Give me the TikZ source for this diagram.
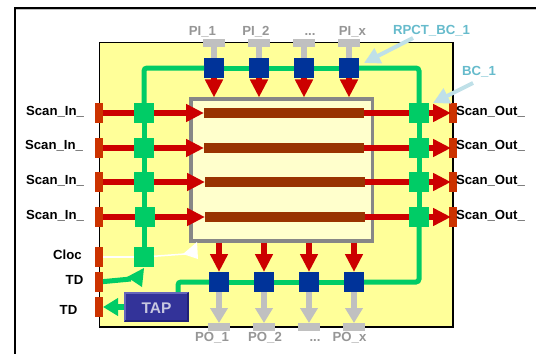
\documentclass[tikz,border=0pt]{standalone}
\usepackage{fontspec}
\setmainfont{Liberation Sans}
\usetikzlibrary{arrows.meta,calc,positioning}
\definecolor{chipyellow}{HTML}{FFFF99}
\definecolor{corecream}{HTML}{FFFFCC}
\definecolor{corebrown}{HTML}{993300}
\definecolor{scanred}{HTML}{CC0000}
\definecolor{portred}{HTML}{CC3300}
\definecolor{bcgreen}{HTML}{00CC66}
\definecolor{rpctblue}{HTML}{003399}
\definecolor{pingray}{HTML}{C0C0C0}
\definecolor{textgray}{HTML}{969696}
\definecolor{noteteal}{HTML}{66BBCC}
\definecolor{notepale}{HTML}{BFE0E8}
\definecolor{tapblue}{HTML}{333399}
\definecolor{taplight}{HTML}{6666BB}
\definecolor{tapdark}{HTML}{222277}
\definecolor{taptext}{HTML}{C8C8E0}

\begin{document}
\begin{tikzpicture}[
      x=0.2mm, y=-0.2mm,
      font=\fontsize{7.5}{9}\selectfont\bfseries,
      chip/.style={draw=black, line width=0.3mm, fill=chipyellow, inner sep=0pt, outer sep=0pt,
        minimum width=70.7mm, minimum height=56.8mm},
      core/.style={draw=textgray!90!black, line width=0.7mm, fill=corecream, inner sep=0pt, outer sep=0.35mm,
        minimum width=36.3mm, minimum height=28.3mm},
      bar/.style={fill=corebrown, inner sep=0pt, outer sep=0pt, minimum width=32mm, minimum height=2mm},
      port/.style={fill=portred, inner sep=0pt, outer sep=0pt, minimum width=1.6mm, minimum height=4.1mm},
      pin/.style={fill=pingray, inner sep=0pt, outer sep=0pt, minimum width=4.3mm, minimum height=1.6mm},
      bc/.style={fill=bcgreen, inner sep=0pt, outer sep=0pt, minimum size=4mm},
      rpct/.style={fill=rpctblue, inner sep=0pt, outer sep=0pt, minimum size=4mm},
      tapbox/.style={fill=tapblue, text=taptext, inner sep=0pt, outer sep=0pt,
        font=\fontsize{8.8}{10}\selectfont\bfseries, minimum width=13mm, minimum height=6mm},
      bus/.style={bcgreen, line width=1mm, rounded corners=0.6mm},
      scan/.style={scanred, line width=1.1mm},
      scanarr/.style={scan, -{Triangle[length=3.6mm,width=3.4mm]}},
      pinwire/.style={pingray, line width=1.1mm},
      pinarr/.style={pinwire, -{Triangle[length=3mm,width=3.4mm]}},
      notearr/.style={notepale, line width=0.8mm, -{Triangle[length=3.2mm,width=3.2mm]}},
      lbl/.style={anchor=base, inner sep=0pt},
      pinlbl/.style={lbl, text=textgray},
      notelbl/.style={lbl, text=noteteal}
    ]
    \useasboundingbox (0,0) rectangle (536,354);
    \fill[white] (0,0) rectangle (536,354);
    % page frame
    \coordinate (framebl) at (14.5,354);
    \coordinate (frametl) at (14.5,8);
    \coordinate (frametr) at (536,8);
    \draw[pingray, line width=0.2mm] (15,9.5) -- (536,9.5);
    \draw[black, line width=0.4mm] (framebl) -- (frametl) -- (frametr);

    \node[chip] (chip) at (276.25,184.75) {};
    \node[core] (core) at (281.5,170) {};

    \node[bar] (bar1) at (284,113) {};
    \node[bar] (bar2) at (284,148) {};
    \node[bar] (bar3) at (285,182) {};
    \node[bar] (bar4) at (285,217) {};

    % ports on the left
    \node[port] (in1) at (99,113) {};
    \node[port] (in2) at (99,148) {};
    \node[port] (in3) at (99,182) {};
    \node[port] (in4) at (99,217) {};
    \node[port] (clk) at (99,257) {};
    \node[port] (tdi) at (99,282) {};
    \node[port] (tdo) at (99,307) {};

    % ports on the right
    \node[port] (out1) at (453,113) {};
    \node[port] (out2) at (453,148) {};
    \node[port] (out3) at (453,182) {};
    \node[port] (out4) at (453,217) {};

    % boundary cells
    \node[bc] (bcl1) at (144,113) {};
    \node[bc] (bcl2) at (144,148) {};
    \node[bc] (bcl3) at (144,182) {};
    \node[bc] (bcl4) at (145,217) {};
    \node[bc] (bcclk) at (144,257) {};
    \node[bc] (bcr1) at (419,113) {};
    \node[bc] (bcr2) at (419,148) {};
    \node[bc] (bcr3) at (419,182) {};
    \node[bc] (bcr4) at (419,217) {};

    \node[rpct] (top1) at (214,68) {};
    \node[rpct] (top2) at (259,68) {};
    \node[rpct] (top3) at (304,68) {};
    \node[rpct] (top4) at (349,68) {};
    \node[rpct] (bot1) at (219,282) {};
    \node[rpct] (bot2) at (264,282) {};
    \node[rpct] (bot3) at (309,282) {};
    \node[rpct] (bot4) at (354,282) {};

    \node[pin] (pi1) at (214,43) {};
    \node[pin] (pi2) at (259,43) {};
    \node[pin] (pi3) at (304,43) {};
    \node[pin] (pi4) at (349,43) {};
    \node[pin] (po1) at (219,327) {};
    \node[pin] (po2) at (264,327) {};
    \node[pin] (po3) at (309,327) {};
    \node[pin] (po4) at (354,327) {};

    \node[tapbox] (tap) at (156.5,307) {};
    \draw[taplight, line width=0.5mm] ([shift={(1,-1)}]tap.south west) -- ([shift={(1,1)}]tap.north west) -- ([shift={(-1,1)}]tap.north east);
    \draw[tapdark, line width=0.5mm] ([shift={(-1,1)}]tap.north east) -- ([shift={(-1,-1)}]tap.south east) -- ([shift={(1,-1)}]tap.south west);
    \node[lbl, text=taptext, font=\fontsize{8.8}{10}\selectfont\bfseries] (taplbl) at (156.5,313) {TAP};

    % scan path, left side
    \draw[scan] (in1) -- (bcl1);
    \draw[scan] (in2) -- (bcl2);
    \draw[scan] (in3) -- (bcl3);
    \draw[scan] (in4) -- (bcl4);
    \draw[scanarr] (bcl1) -- (bar1);
    \draw[scanarr] (bcl2) -- (bar2);
    \draw[scanarr] (bcl3) -- (bar3);
    \draw[scanarr] (bcl4) -- (bar4);
    % scan path, right side
    \draw[scan] (bar1) -- (bcr1);
    \draw[scan] (bar2) -- (bcr2);
    \draw[scan] (bar3) -- (bcr3);
    \draw[scan] (bar4) -- (bcr4);
    \draw[scanarr, shorten >=-0.4mm] (bcr1) -- (out1);
    \draw[scanarr, shorten >=-0.4mm] (bcr2) -- (out2);
    \draw[scanarr, shorten >=-0.4mm] (bcr3) -- (out3);
    \draw[scanarr, shorten >=-0.4mm] (bcr4) -- (out4);

    % green control bus
    \coordinate (tapin) at (178,292);
    \draw[bus] (bcl1) |- (top1);
    \draw[bus] (top1) -- (top2);
    \draw[bus] (top2) -- (top3);
    \draw[bus] (top3) -- (top4);
    \draw[bus] (top4) -| (bcr1);
    \draw[bus] (bcr1) -- (bcr2);
    \draw[bus] (bcr2) -- (bcr3);
    \draw[bus] (bcr3) -- (bcr4);
    \draw[bus] (bcr4) |- (bot4);
    \draw[bus] (bot4) -- (bot3);
    \draw[bus] (bot3) -- (bot2);
    \draw[bus] (bot2) -- (bot1);
    \draw[bus] (bot1) -| (tapin);
    \draw[bus] (bcl1) -- (bcl2);
    \draw[bus] (bcl2) -- (bcl3);
    \draw[bus] (bcl3) -- (bcl4.north -| bcl3);
    \draw[bus] (bcl4.south -| bcclk) -- (bcclk);

    % red arrows into and out of the core
    \draw[scanarr] (top1) -- (top1 |- core.north);
    \draw[scanarr] (top2) -- (top2 |- core.north);
    \draw[scanarr] (top3) -- (top3 |- core.north);
    \draw[scanarr] (top4) -- (top4 |- core.north);
    \draw[scanarr] (bot1 |- core.south) -- (bot1);
    \draw[scanarr] (bot2 |- core.south) -- (bot2);
    \draw[scanarr] (bot3 |- core.south) -- (bot3);
    \draw[scanarr] (bot4 |- core.south) -- (bot4);

    % pins
    \draw[pinwire] (pi1) -- (top1);
    \draw[pinwire] (pi2) -- (top2);
    \draw[pinwire] (pi3) -- (top3);
    \draw[pinwire] (pi4) -- (top4);
    \draw[pinarr] (bot1) -- (po1);
    \draw[pinarr] (bot2) -- (po2);
    \draw[pinarr] (bot3) -- (po3);
    \draw[pinarr] (bot4) -- (po4);

    % clock and test lines
    \coordinate (clkend) at (185,254);
    \draw[white, line width=0.3mm] (clk) -- (bcclk);
    \draw[white, line width=0.3mm] (bcclk) -- (clkend);
    \fill[white] (197,242) -- (198,259) -- (183,254) -- cycle;
    \coordinate (tdiend) at (131,279);
    \draw[bcgreen, line width=1mm] (tdi) -- (tdiend);
    \fill[bcgreen] (144,268) -- (127,277) -- (142,287) -- cycle;
    \draw[bcgreen, line width=1.1mm, -{Triangle[length=3mm,width=3.4mm]}] (tap) -- (tdo);

    % callouts
    \coordinate (rpcttail) at (413,38);
    \coordinate (rpcttip) at (364,63);
    \coordinate (bctail) at (473,83);
    \coordinate (bctip) at (433,103);
    \draw[notearr] (rpcttail) -- (rpcttip);
    \draw[notearr] (bctail) -- (bctip);
    \node[notelbl] (rpctlbl) at (431.5,35) {RPCT\_BC\_1};
    \node[notelbl] (bclbl) at (479,75) {BC\_1};

    % labels
    \node[lbl] (inlbl1) at (55,115) {Scan\_In\_};
    \node[lbl] (inlbl2) at (54,149.5) {Scan\_In\_};
    \node[lbl] (inlbl3) at (55,184) {Scan\_In\_};
    \node[lbl] (inlbl4) at (55,219) {Scan\_In\_};
    \node[lbl] (clklbl) at (67.5,259) {Cloc};
    \node[lbl] (tdilbl) at (74.5,284) {TD};
    \node[lbl] (tdolbl) at (68.5,314) {TD};
    \node[lbl] (outlbl1) at (490.5,115) {Scan\_Out\_};
    \node[lbl] (outlbl2) at (490.5,149.5) {Scan\_Out\_};
    \node[lbl] (outlbl3) at (490.5,184) {Scan\_Out\_};
    \node[lbl] (outlbl4) at (490.5,219) {Scan\_Out\_};
    \node[pinlbl] (pilbl1) at (202.5,36) {PI\_1};
    \node[pinlbl] (pilbl2) at (256,36) {PI\_2};
    \node[pinlbl] (pilbl3) at (310,36) {...};
    \node[pinlbl] (pilbl4) at (352.5,36) {PI\_x};
    \node[pinlbl] (polbl1) at (212,341) {PO\_1};
    \node[pinlbl] (polbl2) at (265,341) {PO\_2};
    \node[pinlbl] (polbl3) at (315,341) {...};
    \node[pinlbl] (polbl4) at (349.5,341) {PO\_x};
  \end{tikzpicture}
\end{document}
